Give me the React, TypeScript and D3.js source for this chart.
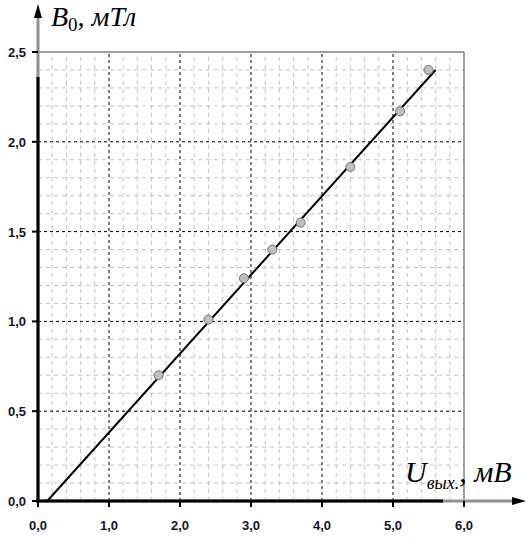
import React from "react";
import * as d3 from "d3";

const xTicks = [0, 1, 2, 3, 4, 5, 6];
const yTicks = [0, 0.5, 1.0, 1.5, 2.0, 2.5];
const ptsU = [1.7, 2.4, 2.9, 3.3, 3.7, 4.4, 5.1, 5.5];
const ptsB = [0.70, 1.01, 1.24, 1.40, 1.55, 1.86, 2.17, 2.40];
const fitU = [0.13, 5.6];
const fitB = [0.0, 2.40];

const W = 530, H = 540;

export default function App() {
  const x = d3.scaleLinear().domain([0, 6]).range([38, 464]);
  const y = d3.scaleLinear().domain([0, 2.5]).range([501, 52]);
  const fmt = (v: number) => v.toFixed(1).replace(".", ",");
  const minorX = d3.range(0, 30).map((i) => i * 0.2).filter((v) => Math.abs(v - Math.round(v)) > 1e-6);
  const minorY = d3.range(0, 25).map((i) => i * 0.1).filter((v) => Math.abs(v * 2 - Math.round(v * 2)) > 1e-6);
  const line = d3.line<number>().x((d, i) => x(fitU[i])).y((d, i) => y(fitB[i]));
  return (
    <svg width={W} height={H} style={{ position: "absolute", left: 0, top: 0, background: "#fff" }}>
      {minorX.map((v) => (
        <line key={"mx" + v} x1={x(v)} x2={x(v)} y1={y(0)} y2={y(2.5)} stroke="#c0c0c0" strokeWidth={1} strokeDasharray="4,4" />
      ))}
      {minorY.map((v) => (
        <line key={"my" + v} x1={x(0)} x2={x(6)} y1={y(v)} y2={y(v)} stroke="#c0c0c0" strokeWidth={1} strokeDasharray="4,4" />
      ))}
      {xTicks.slice(1, 6).map((v) => (
        <line key={"gx" + v} x1={x(v)} x2={x(v)} y1={y(0)} y2={y(2.5)} stroke="#000" strokeWidth={1} strokeDasharray="3,3" />
      ))}
      {yTicks.slice(1, 5).map((v) => (
        <line key={"gy" + v} x1={x(0)} x2={x(6)} y1={y(v)} y2={y(v)} stroke="#000" strokeWidth={1} strokeDasharray="3,3" />
      ))}
      <line x1={x(0)} x2={x(6)} y1={y(2.5)} y2={y(2.5)} stroke="#808080" strokeWidth={1.5} />
      <line x1={x(6)} x2={x(6)} y1={y(2.5)} y2={y(0)} stroke="#808080" strokeWidth={1.5} />
      <line x1={x(0)} x2={x(0)} y1={y(0)} y2={12} stroke="#909090" strokeWidth={3} />
      <path d={`M${x(0) - 4},18 L${x(0)},4 L${x(0) + 4},18 Z`} fill="#000" />
      <line x1={x(0)} x2={x(0)} y1={y(0) + 2} y2={77} stroke="#000" strokeWidth={3} />
      <line x1={x(0)} x2={518} y1={y(0)} y2={y(0)} stroke="#909090" strokeWidth={3} />
      <path d={`M512,${y(0) - 4} L526,${y(0)} L512,${y(0) + 4} Z`} fill="#000" />
      <line x1={x(0) - 2} x2={443} y1={y(0)} y2={y(0)} stroke="#000" strokeWidth={3} />
      {xTicks.map((v) => (
        <g key={"xt" + v}>
          <line x1={x(v)} x2={x(v)} y1={y(0)} y2={y(0) + 6} stroke="#000" strokeWidth={2} />
          <text x={x(v)} y={530} textAnchor="middle" fontFamily="Liberation Sans, Arial, sans-serif" fontWeight="bold" fontSize={13} fill="#141428">{fmt(v)}</text>
        </g>
      ))}
      {yTicks.map((v) => (
        <g key={"yt" + v}>
          <line x1={x(0) - 6} x2={x(0)} y1={y(v)} y2={y(v)} stroke="#000" strokeWidth={2} />
          <text x={26} y={y(v) + 5} textAnchor="end" fontFamily="Liberation Sans, Arial, sans-serif" fontWeight="bold" fontSize={13} fill="#141428">{fmt(v)}</text>
        </g>
      ))}
      <path d={line(fitU) || ""} fill="none" stroke="#000" strokeWidth={2} />
      {ptsU.map((u, i) => (
        <circle key={"p" + i} cx={x(u)} cy={y(ptsB[i])} r={4.5} fill="#c0c0c0" stroke="#707070" strokeWidth={1} />
      ))}
      <text x={51} y={26} fontFamily="Liberation Serif, Times New Roman, serif" fontSize={28} fill="#000">
        <tspan fontStyle="italic">B</tspan>
        <tspan fontSize={19} dy={5}>0</tspan>
        <tspan dy={-5} fontStyle="italic">, мТл</tspan>
      </text>
      <text x={405} y={482} fontFamily="Liberation Serif, Times New Roman, serif" fontSize={30} fill="#000">
        <tspan fontStyle="italic">U</tspan>
        <tspan fontStyle="italic" fontSize={18} dy={7}>вых.</tspan>
        <tspan dy={-7} fontStyle="italic">, мВ</tspan>
      </text>
    </svg>
  );
}
